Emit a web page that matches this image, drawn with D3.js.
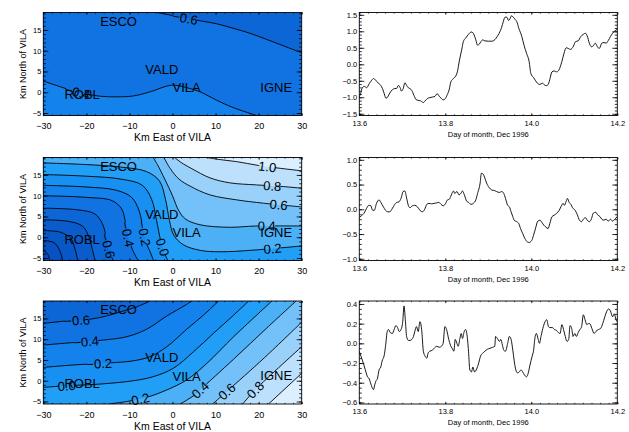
<!DOCTYPE html>
<html><head><meta charset="utf-8">
<script src="https://cdn.jsdelivr.net/npm/d3@7"></script>
<style>
html,body{margin:0;padding:0;background:#fff;}
svg{display:block;}
</style></head>
<body>
<svg id="chart" width="629" height="432"></svg>
<script>
// ================= DATA =================
const mapXTicks = [-30,-20,-10,0,10,20,30];
const mapYTicks = [-5,0,5,10,15];
const mapXDomain = [-30,30];
const mapYDomain = [-5.6,19.2];

const stationNames = ["ESCO","VALD","VILA","IGNE","ROBL"];
const stationX = [-16.8,-6.3,0.0,20.4,-25.1];
const stationY = [16.0,4.5,0.0,0.1,-1.7];

// map 1 contours
const map1Levels = [-0.6,-0.4];
const map1Lines = [
  [[-3.7,19.2],[-0.6,18.6],[1.7,18.1],[6.4,17.2],[10.2,16.5],[14.1,15.4],[18.0,14.2],[21.9,12.7],[25.7,11.2],[30,9.5]],
  [[-30,2.7],[-25.4,1.1],[-22.3,0.1],[-16.8,-0.96],[-13.0,-1.1],[-9.1,-0.9],[-5.2,0.1],[-0.2,1.7],[3.3,1.1],[6.4,0.1],[10.2,-1.9],[14.1,-3.7],[19.5,-5.6]]
];
const map1LabelAt = [[2.9,17.6],[-21.9,0.65]];

// map 2 contours
const map2Levels = [-1.4,-1.2,-1.0,-0.8,-0.6,-0.4,-0.2,0.0,0.2,0.4,0.6,0.8,1.0];
const map2Lines = [
  [[-30,-3.2],[-29,-4.0],[-28.5,-5.6]],
  [[-30,-0.8],[-27.5,-1.3],[-26.2,-3.2],[-25.5,-5.6]],
  [[-30,1.6],[-26,1.2],[-23.6,-0.3],[-22.6,-3.0],[-22.0,-5.6]],
  [[-30,4.2],[-24,3.8],[-20.8,2.6],[-19.4,0.0],[-18.6,-3.0],[-18.0,-5.6]],
  [[-30,7.0],[-22,6.6],[-18,5.6],[-16.3,3.3],[-15.5,0.5],[-15.0,-2.1],[-14.3,-4.2],[-13.8,-5.6]],
  [[-30,10.0],[-20,9.6],[-14,8.8],[-11.8,6.8],[-10.9,3.5],[-10.4,0.5],[-9.2,-3.2],[-8.0,-5.6]],
  [[-30,12.5],[-20,12.1],[-13,11.3],[-9.5,9.6],[-7.8,6.5],[-6.9,2.5],[-6.2,-1.0],[-5.0,-4.0],[-4.4,-5.6]],
  [[-30,15.1],[-20,14.7],[-12,14.0],[-7,12.5],[-4.8,9.0],[-3.7,4.0],[-2.7,-1.0],[-1.7,-4.2],[-1.1,-5.6]],
  [[-30,17.9],[-20,17.5],[-12,16.9],[-6,15.8],[-3,13.5],[-1.6,9.0],[-0.7,4.0],[0.3,0.5],[2.5,-1.8],[6.4,-3.15],[11,-3.5],[18.8,-3.1],[30,-2.1]],
  [[-4.5,19.2],[-3.5,17.5],[-1.8,14.0],[0,10.0],[1.4,6.5],[3.0,4.4],[6.4,3.0],[13.3,2.4],[19.2,2.7],[30,2.7]],
  [[-2.0,19.2],[-0.5,16.5],[1.5,14.0],[4.1,12.3],[8.7,10.2],[14.9,9.0],[21.1,8.2],[30,7.3]],
  [[0.5,19.2],[2.0,18.0],[4.5,16.5],[8.7,14.3],[13.3,13.1],[19.5,12.6],[25.7,12.2],[30,11.8]],
  [[7.9,19.2],[11,18.7],[14.9,18.2],[19.9,17.3],[25,16.6],[30,16.0]]
];
const map2LabelAt = [null,null,null,null,[-15.1,-2.1],[-10.6,0.65],[-6.9,0.9],[-2.5,-2.5],[23.2,-1.8],[21.9,3.3],[24.6,7.5],[23.2,12.2],[22.0,16.8]];

// map 3 contours
const map3Levels = [-0.6,-0.4,-0.2,0.0,0.2,0.4,0.6,0.8,1.0];
const map3Lines = [
  [[-30,13.8],[-24.6,14.4],[-19.2,14.8],[-15.3,15.6],[-11.4,16.8],[-8.3,17.8],[-5.2,19.2]],
  [[-30,8.6],[-23,9.2],[-16,9.8],[-10.6,10.6],[-6,12.4],[-1.3,15.6],[3,18.2],[4.5,19.2]],
  [[-30,3.2],[-23,3.8],[-14.5,4.3],[-9.1,4.8],[-5.2,5.8],[-1.3,8.2],[3.3,12.4],[7.2,15.8],[10.7,19.2]],
  [[-30,-1.6],[-24.6,-1.2],[-16.8,-0.8],[-9.1,0],[-4.4,1.0],[0.2,3.0],[4.9,7.0],[9.5,11.4],[14.2,15.8],[17.7,19.2]],
  [[-14.8,-5.6],[-10.6,-5.0],[-6,-4.0],[-1.3,-2.2],[3.3,0.2],[8,4.2],[14.2,10.6],[23.1,19.2]],
  [[1.8,-5.6],[4.9,-3.6],[6.4,-2.2],[14.2,5.2],[21.9,12.7],[28.7,19.2]],
  [[9.3,-5.6],[12.6,-2.6],[21.4,5.6],[30,14.1]],
  [[16.3,-5.6],[19.2,-2.2],[30,8.2]],
  [[22.3,-5.6],[30,1.8]]
];
const map3LabelAt = [[-22.1,14.8],[-20.1,9.6],[-17,4.4],[-24.6,-1.4],[-7.5,-4.2],[6.4,-2.2],[12.6,-2.6],[19.2,-2.2],null];

// time series
const dayTicks = [13.6,13.8,14.0,14.2];
const days1 = [13.600,13.603,13.607,13.612,13.617,13.623,13.629,13.633,13.638,13.644,13.650,13.654,13.658,13.662,13.666,13.671,13.677,13.681,13.687,13.691,13.695,13.698,13.702,13.706,13.710,13.714,13.718,13.722,13.727,13.732,13.736,13.743,13.749,13.753,13.758,13.764,13.771,13.776,13.781,13.786,13.791,13.795,13.800,13.805,13.809,13.813,13.819,13.823,13.828,13.833,13.838,13.842,13.847,13.851,13.856,13.860,13.864,13.867,13.871,13.875,13.879,13.883,13.887,13.892,13.900,13.908,13.913,13.918,13.923,13.927,13.931,13.935,13.939,13.943,13.947,13.950,13.954,13.958,13.963,13.966,13.971,13.978,13.983,13.989,13.995,13.999,14.005,14.010,14.014,14.020,14.026,14.030,14.036,14.040,14.043,14.048,14.053,14.059,14.064,14.071,14.076,14.081,14.086,14.091,14.098,14.103,14.109,14.115,14.121,14.126,14.130,14.135,14.140,14.144,14.149,14.153,14.158,14.164,14.169,14.174,14.179,14.184,14.189,14.195,14.200];
const values1 = [-0.99,-0.89,-0.71,-0.67,-0.71,-0.59,-0.48,-0.43,-0.48,-0.57,-0.64,-0.74,-0.89,-1.03,-0.99,-0.87,-0.77,-0.74,-0.73,-0.64,-0.71,-0.81,-0.74,-0.56,-0.64,-0.71,-0.74,-0.79,-0.94,-1.07,-1.09,-1.11,-1.16,-1.11,-1.04,-1.01,-0.99,-0.97,-0.89,-0.97,-1.04,-1.08,-1.04,-0.91,-0.77,-0.53,-0.43,-0.38,-0.23,0.13,0.43,0.69,0.79,0.86,0.94,0.98,0.96,0.89,0.74,0.58,0.61,0.69,0.74,0.71,0.70,0.70,0.72,0.79,0.89,0.99,1.12,1.30,1.43,1.43,1.33,1.37,1.47,1.43,1.35,1.30,1.09,0.84,0.58,0.33,0.08,-0.28,-0.40,-0.50,-0.57,-0.61,-0.57,-0.62,-0.65,-0.59,-0.46,-0.23,-0.20,-0.23,-0.18,0.08,0.33,0.50,0.48,0.45,0.55,0.69,0.71,0.84,0.91,0.94,0.86,0.64,0.53,0.56,0.64,0.55,0.48,0.64,0.66,0.64,0.72,0.84,0.94,1.02,1.06];
const ticks1 = [-1.5,-1.0,-0.5,0.0,0.5,1.0,1.5];
const domain1 = [-1.552,1.57];

const days2 = [13.600,13.605,13.611,13.617,13.622,13.627,13.631,13.635,13.640,13.646,13.650,13.656,13.661,13.666,13.671,13.677,13.681,13.687,13.692,13.697,13.702,13.706,13.710,13.714,13.718,13.723,13.729,13.735,13.741,13.747,13.752,13.757,13.762,13.768,13.774,13.780,13.785,13.790,13.795,13.801,13.805,13.809,13.814,13.819,13.822,13.827,13.832,13.836,13.840,13.844,13.850,13.854,13.860,13.865,13.871,13.875,13.881,13.884,13.888,13.892,13.896,13.902,13.908,13.914,13.919,13.926,13.931,13.936,13.940,13.945,13.949,13.953,13.957,13.960,13.966,13.971,13.975,13.980,13.985,13.991,13.995,14.001,14.005,14.010,14.015,14.020,14.025,14.029,14.034,14.039,14.043,14.048,14.053,14.059,14.065,14.070,14.074,14.077,14.081,14.084,14.088,14.092,14.096,14.102,14.107,14.112,14.117,14.121,14.126,14.130,14.135,14.140,14.144,14.150,14.154,14.160,14.164,14.169,14.174,14.179,14.184,14.189,14.195,14.200];
const values2 = [-0.17,-0.13,-0.08,0.02,0.08,0.07,-0.02,-0.02,0.12,0.19,0.14,0.05,-0.02,-0.05,-0.05,0.02,0.08,0.14,0.15,0.22,0.36,0.37,0.23,0.08,0.03,0.07,0.08,0.05,-0.02,-0.05,0.00,0.10,0.12,0.11,0.12,0.13,0.14,0.10,0.07,0.12,0.19,0.20,0.29,0.37,0.32,0.36,0.29,0.32,0.37,0.30,0.16,0.14,0.10,0.12,0.19,0.32,0.53,0.73,0.71,0.63,0.53,0.44,0.39,0.38,0.36,0.34,0.36,0.32,0.22,0.08,0.05,-0.05,-0.15,-0.22,-0.25,-0.29,-0.39,-0.49,-0.59,-0.66,-0.67,-0.63,-0.53,-0.38,-0.24,-0.22,-0.27,-0.32,-0.36,-0.39,-0.29,-0.15,-0.12,-0.08,-0.02,0.07,0.12,0.08,0.16,0.22,0.14,0.10,0.03,-0.02,-0.11,-0.22,-0.25,-0.20,-0.17,-0.22,-0.25,-0.19,-0.08,-0.06,-0.11,-0.15,-0.20,-0.22,-0.20,-0.24,-0.20,-0.24,-0.19,-0.15];
const ticks2 = [-1.0,-0.5,0.0,0.5,1.0];
const domain2 = [-1.035,1.047];

const days3 = [13.600,13.603,13.607,13.612,13.616,13.619,13.623,13.626,13.630,13.633,13.636,13.639,13.642,13.646,13.650,13.653,13.658,13.661,13.665,13.668,13.672,13.677,13.681,13.685,13.689,13.693,13.697,13.701,13.704,13.707,13.710,13.714,13.718,13.722,13.726,13.729,13.733,13.737,13.741,13.745,13.749,13.753,13.757,13.760,13.764,13.770,13.774,13.780,13.786,13.791,13.795,13.799,13.803,13.808,13.812,13.816,13.820,13.823,13.827,13.830,13.834,13.837,13.840,13.844,13.847,13.850,13.854,13.857,13.861,13.864,13.868,13.873,13.877,13.882,13.887,13.892,13.898,13.904,13.910,13.915,13.917,13.921,13.926,13.929,13.933,13.936,13.940,13.945,13.949,13.953,13.957,13.960,13.964,13.968,13.972,13.976,13.980,13.984,13.989,13.993,13.997,14.002,14.005,14.009,14.012,14.016,14.019,14.023,14.028,14.032,14.036,14.040,14.043,14.049,14.054,14.059,14.063,14.067,14.071,14.075,14.079,14.083,14.087,14.090,14.094,14.097,14.101,14.105,14.109,14.113,14.117,14.121,14.125,14.129,14.133,14.136,14.141,14.146,14.150,14.156,14.161,14.166,14.171,14.175,14.180,14.184,14.189,14.193,14.197,14.200];
const values3 = [-0.08,-0.12,-0.17,-0.24,-0.30,-0.34,-0.36,-0.40,-0.45,-0.47,-0.42,-0.38,-0.36,-0.27,-0.24,-0.18,-0.12,-0.03,0.12,0.14,0.11,0.10,0.14,0.18,0.16,0.12,0.14,0.22,0.38,0.24,0.07,0.03,0.03,0.04,0.07,0.12,0.17,0.12,0.22,0.14,-0.08,-0.13,-0.15,-0.10,-0.08,-0.07,-0.05,-0.03,-0.04,-0.03,0.00,0.17,0.14,0.04,-0.02,-0.05,-0.08,0.04,0.00,-0.03,0.05,0.10,0.05,0.12,0.14,0.10,-0.08,-0.27,-0.29,-0.24,-0.29,-0.26,-0.21,-0.13,-0.10,-0.08,-0.06,-0.05,-0.04,-0.03,0.07,0.05,0.02,0.04,-0.02,-0.07,-0.08,0.00,0.07,0.04,-0.07,-0.17,-0.27,-0.30,-0.29,-0.27,-0.29,-0.32,-0.34,-0.30,-0.22,-0.13,-0.08,0.07,0.10,0.04,0.00,0.08,0.17,0.22,0.24,0.17,0.16,0.16,0.14,0.13,0.11,0.10,0.19,0.14,0.07,0.02,0.04,0.18,0.15,0.07,0.10,0.07,0.11,0.14,0.17,0.29,0.24,0.19,0.20,0.20,0.15,0.10,0.12,0.14,0.15,0.20,0.27,0.32,0.35,0.33,0.27,0.30,0.24,0.22];
const ticks3 = [-0.6,-0.4,-0.2,0.0,0.2,0.4];
const domain3 = [-0.616,0.43];

// ================= DRAWING =================
const FONT = '"Liberation Sans", Arial, Helvetica, sans-serif';
const svg = d3.select("#chart");
const defs = svg.append("defs");
const tops = [12.5,157.5,301], PH = 103;
const MX0 = 43.3, MX1 = 301.7, TX0 = 359.3, TX1 = 617.3;

const colorFor = d3.scaleLinear()
  .domain([-1.5,-0.9,-0.7,-0.5,-0.3,-0.1,0.1,0.3,0.5,0.7,0.9,1.1])
  .range(["#054cbe","#0a5ccc","#0c66d6","#1173e2","#1482ec","#1890f2","#219ef6","#4cb0f7","#74c1f9","#9ad1fa","#bde0fc","#dcefff"])
  .clamp(true);

const fmtLevel = v => (v < -1e-9 ? "\u2212" : "") + Math.abs(v).toFixed(1);
const fmtInt = v => (v < 0 ? "\u2212" : "") + Math.abs(v);

function extendPt(p){
  if (p[0] <= -29.9) return [-60,p[1]];
  if (p[0] >= 29.9) return [60,p[1]];
  if (p[1] <= -5.5) return [p[0],-40];
  return [p[0],60];
}

function drawAxes(g, x, y, o){
  const [xa,xb] = x.range(); const [yb,ya] = y.range();
  const mk = (axis, tr, vals, len, fmt, pad, fs) => {
    const a = g.append("g").attr("transform", tr)
      .call(axis.tickValues(vals).tickSizeInner(-len).tickSizeOuter(0).tickPadding(pad||0).tickFormat(fmt || (()=>"")));
    a.select(".domain").remove();
    a.attr("font-family", FONT).attr("font-size", fs||8);
    a.selectAll(".tick line").attr("stroke","#000").attr("stroke-width",0.8);
    a.selectAll("text").attr("fill","#000");
    return a;
  };
  mk(d3.axisBottom(x), `translate(0,${yb})`, o.xTicks, o.xLen, o.xFmt, o.xPad, o.xFont);
  mk(d3.axisBottom(x), `translate(0,${yb})`, o.xMinor, o.xLen/2);
  mk(d3.axisTop(x), `translate(0,${ya})`, o.xTicks, o.xLen);
  mk(d3.axisTop(x), `translate(0,${ya})`, o.xMinor, o.xLen/2);
  mk(d3.axisLeft(y), `translate(${xa},0)`, o.yTicks, o.yLen, o.yFmt, o.yPad, o.yFont);
  mk(d3.axisLeft(y), `translate(${xa},0)`, o.yMinor, o.yLen/2);
  mk(d3.axisRight(y), `translate(${xb},0)`, o.yTicks, o.yLen);
  mk(d3.axisRight(y), `translate(${xb},0)`, o.yMinor, o.yLen/2);
  g.append("rect").attr("x",xa).attr("y",ya).attr("width",xb-xa).attr("height",yb-ya)
    .attr("fill","none").attr("stroke","#000").attr("stroke-width",0.9);
}

function drawMap(idx, levels, lines, labelAt, corners){
  const top = tops[idx], bot = top + PH;
  const x = d3.scaleLinear().domain(mapXDomain).range([MX0,MX1]);
  const y = d3.scaleLinear().domain(mapYDomain).range([bot,top]);
  const cid = "mclip"+idx;
  defs.append("clipPath").attr("id",cid).append("rect")
    .attr("x",MX0).attr("y",top).attr("width",MX1-MX0).attr("height",PH);
  const g = svg.append("g").attr("clip-path",`url(#${cid})`);
  g.append("rect").attr("x",MX0).attr("y",top).attr("width",MX1-MX0).attr("height",PH)
    .attr("fill",colorFor(levels[0]-0.1));
  const line = d3.line().x(d=>x(d[0])).y(d=>y(d[1])).curve(d3.curveCatmullRom.alpha(0.5));
  const P = p => `${x(p[0])},${y(p[1])}`;
  lines.forEach((pts,k)=>{
    const s = line(pts);
    const d = "M"+P(extendPt(pts[0]))+"L"+s.slice(1)+"L"+P(extendPt(pts[pts.length-1]))
      + corners.map(c=>"L"+P(c)).join("") + "Z";
    g.append("path").attr("d",d).attr("fill",colorFor(levels[k]+0.1));
  });
  const mid = "mmask"+idx;
  const mask = defs.append("mask").attr("id",mid).attr("maskUnits","userSpaceOnUse")
    .attr("x",0).attr("y",0).attr("width",629).attr("height",432);
  mask.append("rect").attr("width",629).attr("height",432).attr("fill","#fff");
  const lg = g.append("g").attr("mask",`url(#${mid})`);
  const paths = lines.map(pts => lg.append("path").attr("d",line(pts)).attr("fill","none")
    .attr("stroke","#000").attr("stroke-width",0.9));
  const tg = svg.append("g").attr("font-family",FONT).attr("fill","#000");
  labelAt.forEach((lab,k)=>{
    if (!lab) return;
    const node = paths[k].node(), L = node.getTotalLength();
    const tx = x(lab[0]), ty = y(lab[1]);
    let best = 0, bd = 1e12;
    for (let s=0; s<=L; s+=0.5){ const p=node.getPointAtLength(s); const dd=(p.x-tx)**2+(p.y-ty)**2; if(dd<bd){bd=dd;best=s;} }
    const p = node.getPointAtLength(best);
    const a = node.getPointAtLength(Math.max(0,best-5)), b = node.getPointAtLength(Math.min(L,best+5));
    let ang = Math.atan2(b.y-a.y, b.x-a.x)*180/Math.PI;
    if (ang > 90) ang -= 180; if (ang < -90) ang += 180;
    const tr = `translate(${p.x},${p.y}) rotate(${ang})`;
    const t = tg.append("text").attr("transform",tr).attr("text-anchor","middle").attr("dy","0.36em")
      .attr("font-size",13).text(fmtLevel(levels[k]));
    const w = t.node().getComputedTextLength();
    mask.append("rect").attr("transform",tr).attr("x",-w/2+1).attr("y",-5).attr("width",w-2).attr("height",10).attr("fill","#000");
  });
  stationNames.forEach((n,i)=>{
    tg.append("text").attr("x",x(stationX[i])).attr("y",y(stationY[i])).attr("font-size",13).text(n);
  });
  const ag = svg.append("g");
  drawAxes(ag, x, y, {
    xTicks: mapXTicks, xMinor: d3.range(-30,30.01,2), xLen: 2.2, xFmt: fmtInt, xPad: 7.5, xFont: 9,
    yTicks: mapYTicks, yMinor: d3.range(-5,19.01,1), yLen: 5, yFmt: fmtInt, yPad: 2, yFont: 7.5
  });
  ag.append("text").attr("x",(MX0+MX1)/2).attr("y",bot+25.5).attr("text-anchor","middle")
    .attr("font-family",FONT).attr("font-size",10.5).text("Km East of VILA");
  ag.append("text").attr("transform",`translate(22.5,${(top+bot)/2}) rotate(-90)`).attr("text-anchor","middle")
    .attr("dy","0.35em").attr("font-family",FONT).attr("font-size",9).text("Km North of VILA");
}

function drawSeries(idx, days, vals, dom, ticks, minorStep){
  const top = tops[idx], bot = top + PH;
  const x = d3.scaleLinear().domain([13.6,14.2]).range([TX0,TX1]);
  const y = d3.scaleLinear().domain(dom).range([bot,top]);
  const data = days.map((d,i)=>[d, vals[i]]).filter(d=>d[1]!==undefined);
  const cid = "tclip"+idx;
  defs.append("clipPath").attr("id",cid).append("rect")
    .attr("x",TX0).attr("y",top).attr("width",TX1-TX0).attr("height",PH);
  svg.append("g").attr("clip-path",`url(#${cid})`).append("path")
    .attr("d", d3.line().x(d=>x(d[0])).y(d=>y(d[1])).curve(d3.curveMonotoneX)(data))
    .attr("fill","none").attr("stroke","#000").attr("stroke-width",0.9);
  const ag = svg.append("g");
  const yMinor = d3.range(Math.ceil(dom[0]/minorStep-1e-6)*minorStep, dom[1]+1e-9, minorStep);
  drawAxes(ag, x, y, {
    xTicks: dayTicks, xMinor: d3.range(13.6,14.2001,0.02), xLen: 2.2, xFmt: d3.format(".1f"), xPad: 5, xFont: 7.5,
    yTicks: ticks, yMinor: yMinor, yLen: 5, yFmt: d3.format(".1f"), yPad: 2, yFont: 7.5
  });
  ag.append("text").attr("x",(TX0+TX1)/2).attr("y",bot+21).attr("text-anchor","middle")
    .attr("font-family",FONT).attr("font-size",7.5).text("Day of month, Dec 1996");
}

drawMap(0, map1Levels, map1Lines, map1LabelAt, [[60,-40],[-60,-40],[-60,60]]);
drawMap(1, map2Levels, map2Lines, map2LabelAt, [[60,-40],[60,60],[-60,60]]);
drawMap(2, map3Levels, map3Lines, map3LabelAt, [[60,60],[60,-40],[-60,-40]]);
drawSeries(0, days1, values1, domain1, ticks1, 0.1);
drawSeries(1, days2, values2, domain2, ticks2, 0.1);
drawSeries(2, days3, values3, domain3, ticks3, 0.05);
</script>
</body></html>
